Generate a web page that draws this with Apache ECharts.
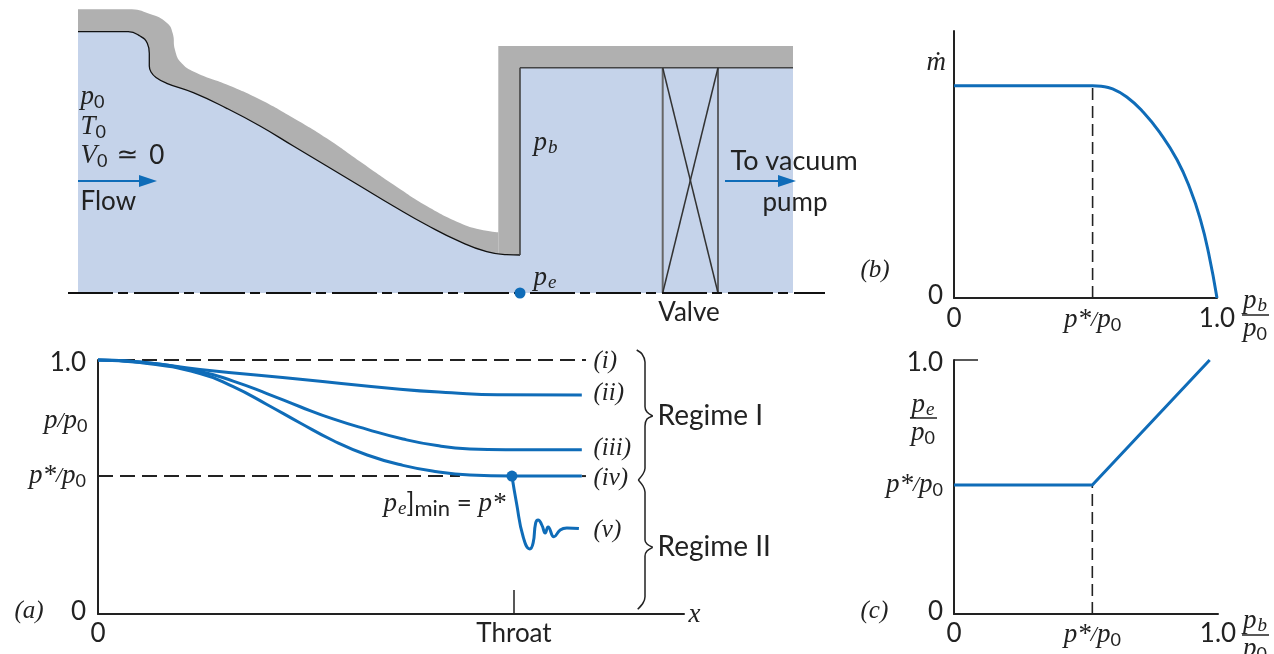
<!DOCTYPE html>
<html><head><meta charset="utf-8">
<style>html,body{margin:0;padding:0;background:#fff}#c{width:1274px;height:654px}</style>
<script src="https://cdn.jsdelivr.net/npm/echarts@6/dist/echarts.min.js"></script>
</head><body><div id="c"></div>
<script>
// Nozzle geometry: [distance from inlet, height above centre line]
const wallInner=[[0,261.3],[50.3,261.3],[62,257],[69.3,249.7],[71.3,239.7],[71.3,227],[73,221],[78,215.5],[88.7,209.7],[115.3,200.3],[148.7,184.7],[182,167],[215.3,147],[248.7,127],[282,107],[315.3,87],[348.7,68],[382,51.3],[408.7,41.3],[428.7,38.3],[442,38]];
const wallOuter=[[0,283.7],[50.3,283.7],[72,279],[88.7,270.3],[94.7,259.7],[97,243],[103.7,229.7],[118.7,220],[148.7,208.5],[182,193.5],[215.3,175],[248.7,154.7],[282,131.5],[315.3,108.5],[348.7,87],[382,70],[402,63.5],[420.3,60.7]];
const chamberInner=[[442,225.3],[715,225.3]];
const chamberOuter=[[420.3,247],[715,247]];
const exitWall=[[442,38],[442,225.3]];
const centreLine=[[-10,0],[747,0]];
const valveLeft=[[584.7,0],[584.7,225.3]];
const valveRight=[[640,0],[640,225.3]];
const valveCrossA=[[584.7,225.3],[640,0]];
const valveCrossB=[[640,225.3],[584.7,0]];
const flowArrow=[[0,112],[70,112]];
const pumpArrow=[[647,112],[709,112]];
const exitPoint=[[442,0]];
// Panel (a): x relative to throat, p/p0
const pStarA=0.543;
const curveI=[[0,1],[1.173,1]];
const curveStar=[[0,pStarA],[0.87,pStarA]];
const curveStarEnd=[[1.163,pStarA],[1.173,pStarA]];
const curveII=[[0,1],[0.101,0.992],[0.245,0.963],[0.486,0.924],[0.726,0.885],[0.85,0.871],[0.96,0.863],[1.163,0.862]];
const curveIII=[[0,1],[0.101,0.992],[0.245,0.955],[0.325,0.917],[0.406,0.868],[0.486,0.816],[0.565,0.768],[0.647,0.727],[0.733,0.689],[0.815,0.663],[0.894,0.65],[0.98,0.647],[1.163,0.647]];
const curveIV=[[0,1],[0.101,0.99],[0.245,0.947],[0.325,0.895],[0.406,0.825],[0.486,0.752],[0.565,0.683],[0.647,0.626],[0.733,0.585],[0.815,0.56],[0.894,0.547],[0.995,0.543],[1.163,0.543]];
const curveV=[[0.995,0.543],[1.006,0.437],[1.022,0.304],[1.038,0.256],[1.046,0.28],[1.052,0.358],[1.058,0.37],[1.067,0.35],[1.075,0.319],[1.082,0.343],[1.096,0.304],[1.111,0.331],[1.127,0.339],[1.156,0.337]];
const minPoint=[[0.995,pStarA]];
// Panel (b): p_b/p_0, mass flow
const pStarB=0.527;
const massFlow=[[0,1],[0.527,1],[0.56,0.997],[0.6,0.986],[0.657,0.947],[0.72,0.875],[0.784,0.777],[0.848,0.651],[0.899,0.51],[0.937,0.369],[0.968,0.212],[1,0]];
const massDash=[[pStarB,0],[pStarB,1]];
// Panel (c): p_b/p_0, p_e/p_0
const pStarC=0.541, peStar=0.508;
const exitRatio=[[0,peStar],[pStarC,peStar],[1,1]];
const exitDash=[[pStarC,0],[pStarC,peStar]];

const pg=(x,y)=>[x-78,293-y];           // page pixel to the diagram's layout axes
const BLUE='#0f6cb8',INK='#222',FILL='#c5d3ea',GREY='#b0b0b0';
const STAR='{m|p}{m|*}{sl|/}{m|p}{s|0}';
const bracePieces=[
 [[636.7,350],[642,354],[645,362],[645,406.7],[647,412],[652.7,416]],
 [[652.7,416],[647,419],[645,426],[645,468.3],[643,474],[638.3,480]],
 [[638.3,480],[643,486],[645,492],[645,540],[647,544],[652.7,547.3]],
 [[652.7,547.3],[647,551],[645,556],[645,596.7],[643,603],[637.7,609.3]]];
const fractionBars=[[[1242,315],[1269,315]],[[1242,635],[1269,635]],[[910,418],[937,418]]];
const L='right',R='left',C='inside';
const notes=[
 [80,97,'{m|p}{s|0}',L],[80,127,'{m|T}{s|0}',L],[80,156,'{m|V}{s|0}{q|≃}{t|0}',L],[80,202,'{t|Flow}',L],
 [533,143,'{m|p}{b|b}',L],[533,278,'{m|p}{b|e}',L],
 [730,161,'{w|To vacuum}',L],[762,203,'{t|pump}',L],[689,313,'{t|Valve}',C],
 [88,421,'{m|p}{sl|/}{m|p}{s|0}',R],
 [14,611,'{i|(a)}',L],[688,615,'{m|x}',L],
 [593,361,'{i|(i)}',L],[593,393,'{i|(ii)}',L],[593,448,'{i|(iii)}',L],[593,478,'{i|(iv)}',L],[593,530,'{i|(v)}',L],
 [657,416,'{r|Regime I}',L],[657,547,'{r|Regime II}',L],
 [383,504,'{m|p}{b|e}{u|]}{n|min}{u| = }{m|p}{m|*}',L],
 [926,63,'{m|ṁ}',L],[860,270,'{i|(b)}',L],[860,611,'{i|(c)}',L],
 [1255,301,'{m|p}{b|b}',C],[1255,329,'{m|p}{s|0}',C],
 [1255,621,'{m|p}{b|b}',C],[1255,649,'{m|p}{s|0}',C],
 [923,405,'{m|p}{b|e}',C],[923,433,'{m|p}{s|0}',C]
];
const rich={
 m:{fontFamily:'Liberation Serif',fontStyle:'italic',fontSize:27,color:INK},
 s:{fontFamily:'Lato',fontSize:18,color:INK,padding:[10,0,0,0]},
 n:{fontFamily:'Lato',fontSize:22,color:INK,padding:[10,0,0,0]},
 b:{fontFamily:'Liberation Serif',fontStyle:'italic',fontSize:19,color:INK,padding:[10,0,0,1]},
 sl:{fontFamily:'Liberation Serif',fontStyle:'italic',fontSize:22,color:INK},
 t:{fontFamily:'Lato',fontSize:26,color:INK},
 w:{fontFamily:'Lato',fontSize:27,color:INK},
 r:{fontFamily:'Lato',fontSize:28,color:INK},
 q:{fontFamily:'DejaVu Sans',fontSize:26,color:INK,padding:[0,11,0,9]},
 u:{fontFamily:'Lato',fontSize:26,color:INK},
 i:{fontFamily:'Liberation Serif',fontStyle:'italic',fontSize:25,color:INK},
 z:{fontFamily:'Lato',fontSize:26,color:INK,padding:[0,0,5,0]},
 o:{fontFamily:'Lato',fontSize:26,color:INK,padding:[5,0,0,0]}
};
const base={type:'line',showSymbol:false,symbol:'none',silent:true,clip:false,animation:false};
const line=(data,grid,color,width,extra)=>Object.assign({},base,{data,xAxisIndex:grid,yAxisIndex:grid,
  lineStyle:{color,width},itemStyle:{color}},extra||{});
const area=(data,fill,stroke,width,smooth,z)=>line(data,0,stroke,width,{smooth,areaStyle:{color:fill,opacity:1},z});
const arrow=(data)=>line([data[0],{value:data[1],symbol:'triangle',symbolRotate:-90,symbolSize:[12,18]}],0,BLUE,2.2,{showSymbol:true,symbol:'none',z:6});
const dot=(data,grid)=>Object.assign({},base,{type:'scatter',data,xAxisIndex:grid,yAxisIndex:grid,symbolSize:11,symbol:'circle',itemStyle:{color:BLUE,opacity:1},z:7});

const tickLabel=(map)=>({show:true,color:INK,margin:7,fontFamily:'Lato',fontSize:26,rich,customValues:Object.keys(map).map(Number),formatter:v=>map[v]});
const axisLine={show:true,onZero:true,lineStyle:{color:INK,width:2}};
const mk=(grid,min,max,labels,ticks,margin)=>({type:'value',gridIndex:grid,min,max,splitLine:{show:false},axisLine,
  axisLabel:Object.assign(tickLabel(labels),margin?{margin}:{}),
  axisTick:ticks?{show:true,inside:true,length:24,lineStyle:{color:INK,width:1.5},customValues:ticks}:{show:false}});

const cOverMax=264/255.7;
const option={
 animation:false,backgroundColor:'#fff',
 grid:[{left:0,top:0,right:0,bottom:0},{left:98,top:360,width:586,height:254},{left:954,top:31,width:263,height:267},{left:954,top:360,width:264,height:254}],
 xAxis:[
  {type:'value',gridIndex:0,min:-78,max:1196,show:false},
  mk(1,0,586/416,{0:'0',1:'{t|Throat}'},[1]),
  mk(2,0,1,{0:'0',[pStarB]:STAR,1:'1.0'},null,8),
  mk(3,0,cOverMax,{0:'0',[pStarC]:STAR,[cOverMax]:'1.0'})],
 yAxis:[
  {type:'value',gridIndex:0,min:-361,max:293,show:false},
  mk(1,0,1,{0:'{z|0}',[pStarA]:STAR,1:'{o|1.0}'},null,12),
  mk(2,0,267/212.3,{0:'{z|0}'},null,11),
  mk(3,0,1,{0:'{z|0}',[peStar]:STAR,1:'{o|1.0}'},[1],11)],
 series:[
  area(wallOuter,GREY,GREY,0,0.5,1),
  area(chamberOuter,GREY,GREY,0,false,1),
  area(wallInner,FILL,'#111',1.3,0.5,2),
  area(chamberInner,FILL,'#444',1.6,false,2),
  line(exitWall,0,'#444',1.6,{z:3}),
  line(centreLine,0,'#111',2,{z:4,lineStyle:{color:'#111',width:2,type:[45,5,10,6]}}),
  line(valveLeft,0,'#666',2,{z:3}),line(valveRight,0,'#444',1.6,{z:3}),
  line(valveCrossA,0,'#333',1.5,{z:3}),line(valveCrossB,0,'#333',1.5,{z:3}),
  arrow(flowArrow),arrow(pumpArrow),dot(exitPoint,0),
  ...fractionBars.map(b=>line(b.map(p=>pg(p[0],p[1])),0,INK,1.5)),
  ...bracePieces.map(b=>line(b.map(p=>pg(p[0],p[1])),0,INK,1.5,{smooth:0.3})),
  line(curveI,1,'#222',2,{lineStyle:{color:'#222',width:2,type:[15,7]}}),
  line(curveStar,1,'#222',2,{lineStyle:{color:'#222',width:2,type:[15,7]}}),
  line(curveStarEnd,1,'#222',2),
  line(curveII,1,BLUE,3,{smooth:0.5,z:5}),line(curveIII,1,BLUE,3,{smooth:0.5,z:5}),line(curveIV,1,BLUE,3,{smooth:0.5,z:5}),
  line(curveV,1,BLUE,3,{smooth:0.5,z:5}),dot(minPoint,1),
  line(massDash,2,'#222',1.6,{lineStyle:{color:'#222',width:1.6,type:[12,6]}}),
  line(massFlow,2,BLUE,3,{smooth:0.5,z:5}),
  line(exitDash,3,'#222',1.6,{lineStyle:{color:'#222',width:1.6,type:[12,6]}}),
  line(exitRatio,3,BLUE,3,{z:5}),
  Object.assign({},base,{type:'scatter',xAxisIndex:0,yAxisIndex:0,symbol:'circle',symbolSize:1,z:8,itemStyle:{color:'rgba(0,0,0,0)'},
   data:notes.map(n=>({value:pg(n[0],n[1]),label:{show:true,position:n[3],distance:0,formatter:n[2],rich,opacity:1}}))})
 ]
};
echarts.init(document.getElementById('c'),null,{renderer:'canvas'}).setOption(option);
</script></body></html>
